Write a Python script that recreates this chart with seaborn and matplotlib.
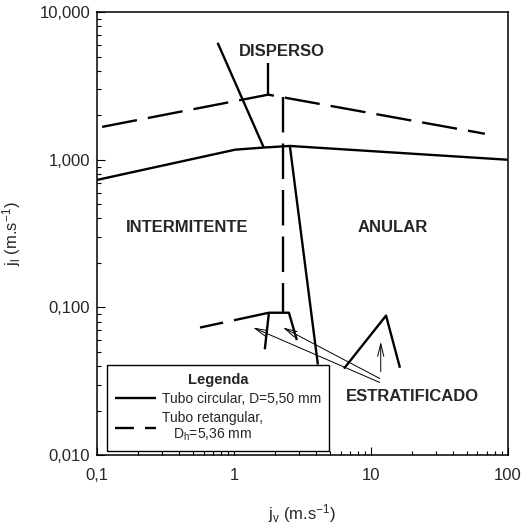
import matplotlib
matplotlib.use("Agg")
import matplotlib.pyplot as plt
import matplotlib.ticker as mticker
from matplotlib.lines import Line2D
import numpy as np
import pandas as pd
import seaborn as sns

# Flow-pattern transition boundaries (superficial velocities, m/s)
# Circular tube, D = 5.50 mm (solid)
circ_upper_jv = [0.1, 1.02, 1.65, 2.56, 100]
circ_upper_jl = [0.73, 1.17, 1.21, 1.24, 1.0]
circ_disp_jv = [0.76, 1.65]
circ_disp_jl = [6.2, 1.21]
circ_annular_jv = [2.56, 4.1]
circ_annular_jl = [1.24, 0.041]
circ_strat_left_jv = [1.68, 1.8, 2.52, 2.88]
circ_strat_left_jl = [0.052, 0.092, 0.092, 0.060]
circ_strat_right_jv = [6.36, 12.9, 16.3]
circ_strat_right_jl = [0.0385, 0.088, 0.039]

# Rectangular tube, Dh = 5.36 mm (dashed)
rect_upper_jv = [0.109, 1.78, 68]
rect_upper_jl = [1.67, 2.76, 1.5]
rect_disp_jv = [1.78, 1.78]
rect_disp_jl = [2.76, 4.5]
rect_annular_jv = [2.28, 2.28]
rect_annular_jl = [2.65, 0.092]
rect_strat_jv = [0.565, 1.8]
rect_strat_jl = [0.073, 0.092]

# Arrows pointing at the stratified boundaries: (tip jv, tip jl, tail jv, tail jl)
arrow_tip_jv = [1.38, 2.28, 11.8]
arrow_tip_jl = [0.073, 0.073, 0.0585]
arrow_tail_jv = [11.6, 11.6, 11.8]
arrow_tail_jl = [0.031, 0.033, 0.0367]

x_ticks = [0.1, 1, 10, 100]
x_tick_labels = ["0,1", "1", "10", "100"]
y_ticks = [0.01, 0.1, 1, 10]
y_tick_labels = ["0,010", "0,100", "1,000", "10,000"]

sns.set_style("ticks")
plt.rcParams["font.family"] = ["Liberation Sans", "DejaVu Sans"]
plt.rcParams["mathtext.fontset"] = "custom"
plt.rcParams["mathtext.rm"] = "Liberation Sans"
plt.rcParams["mathtext.it"] = "Liberation Sans:italic"
plt.rcParams["mathtext.bf"] = "Liberation Sans:bold"

fig = plt.figure(figsize=(5.23, 5.27), dpi=100)
ax = fig.add_axes([0.1855, 0.1366, 0.7855, 0.8404])

LW = 1.7
DASH = (15, 4.7)

segments = [
    (circ_upper_jv, circ_upper_jl, "solid"),
    (circ_disp_jv, circ_disp_jl, "solid"),
    (circ_annular_jv, circ_annular_jl, "solid"),
    (circ_strat_left_jv, circ_strat_left_jl, "solid"),
    (circ_strat_right_jv, circ_strat_right_jl, "solid"),
    (rect_upper_jv, rect_upper_jl, "dashed"),
    (rect_disp_jv, rect_disp_jl, "dashed"),
    (rect_annular_jv, rect_annular_jl, "dashed"),
    (rect_strat_jv, rect_strat_jl, "dashed_off"),
]

for jv, jl, kind in segments:
    df = pd.DataFrame({"jv": jv, "jl": jl})
    line_ax = sns.lineplot(data=df, x="jv", y="jl", ax=ax, color="black",
                           linewidth=LW, sort=False, estimator=None)
    ln = line_ax.lines[-1]
    ln.set_solid_capstyle("butt")
    if kind == "dashed":
        ln.set_linestyle((0, DASH))
        ln.set_dash_capstyle("butt")
    elif kind == "dashed_off":
        ln.set_linestyle((5, DASH))
        ln.set_dash_capstyle("butt")

ax.set_xscale("log")
ax.set_yscale("log")
ax.set_xlim(0.1, 100)
ax.set_ylim(0.01, 10)

for tx, ty, hx, hy in zip(arrow_tail_jv, arrow_tail_jl, arrow_tip_jv, arrow_tip_jl):
    ax.annotate("", xy=(hx, hy), xytext=(tx, ty),
                arrowprops=dict(arrowstyle="->,head_length=0.9,head_width=0.22",
                                color="black", lw=0.7, shrinkA=0, shrinkB=0))

region_font = dict(fontsize=12, fontweight="bold", ha="center", va="center")
ax.text(2.24, 5.38, "DISPERSO", **region_font)
ax.text(0.454, 0.346, "INTERMITENTE", **region_font)
ax.text(14.5, 0.346, "ANULAR", **region_font)
ax.text(20.2, 0.0248, "ESTRATIFICADO", **region_font)

ax.xaxis.set_major_locator(mticker.FixedLocator(x_ticks))
ax.xaxis.set_major_formatter(mticker.FixedFormatter(x_tick_labels))
ax.yaxis.set_major_locator(mticker.FixedLocator(y_ticks))
ax.yaxis.set_major_formatter(mticker.FixedFormatter(y_tick_labels))
ax.xaxis.set_minor_locator(mticker.LogLocator(base=10, subs=np.arange(2, 10)))
ax.yaxis.set_minor_locator(mticker.LogLocator(base=10, subs=np.arange(2, 10)))
ax.xaxis.set_minor_formatter(mticker.NullFormatter())
ax.yaxis.set_minor_formatter(mticker.NullFormatter())

ax.tick_params(which="both", direction="in", color="black", width=0.8,
               top=False, right=False)
ax.tick_params(which="major", length=6, labelsize=12)
ax.tick_params(which="minor", length=3)
ax.tick_params(axis="x", which="major", pad=9)
ax.tick_params(axis="y", which="major", pad=5)

for s in ax.spines.values():
    s.set_visible(True)
    s.set_color("black")
    s.set_linewidth(1.1)

ax.set_xlabel(r"j$_\mathregular{v}$ (m.s$^\mathregular{-1}$)", fontsize=12, labelpad=14)
ax.set_ylabel(r"j$_\mathregular{l}$ (m.s$^\mathregular{-1}$)", fontsize=12, labelpad=12)

handles = [
    Line2D([], [], color="black", lw=LW, solid_capstyle="butt"),
    Line2D([], [], color="black", lw=LW, linestyle=(7, DASH), dash_capstyle="butt"),
]
labels = ["Tubo circular, D=5,50 mm", "Tubo retangular,\nD$_\\mathregular{h}$=5,36 mm"]
leg = ax.legend(handles, labels, title="Legenda", loc="lower left",
                bbox_to_anchor=(0.024, 0.009), borderaxespad=0, fontsize=10,
                title_fontproperties={"weight": "bold", "size": 10.5},
                frameon=True, fancybox=False, edgecolor="black", framealpha=1,
                handlelength=3.0, handletextpad=0.45, labelspacing=0.35,
                borderpad=0.55)
leg.get_frame().set_linewidth(1.0)
for t in leg.get_texts():
    t.set_multialignment("center")
leg.set_zorder(5)

fig.savefig("out.png", dpi=100, facecolor="white")
